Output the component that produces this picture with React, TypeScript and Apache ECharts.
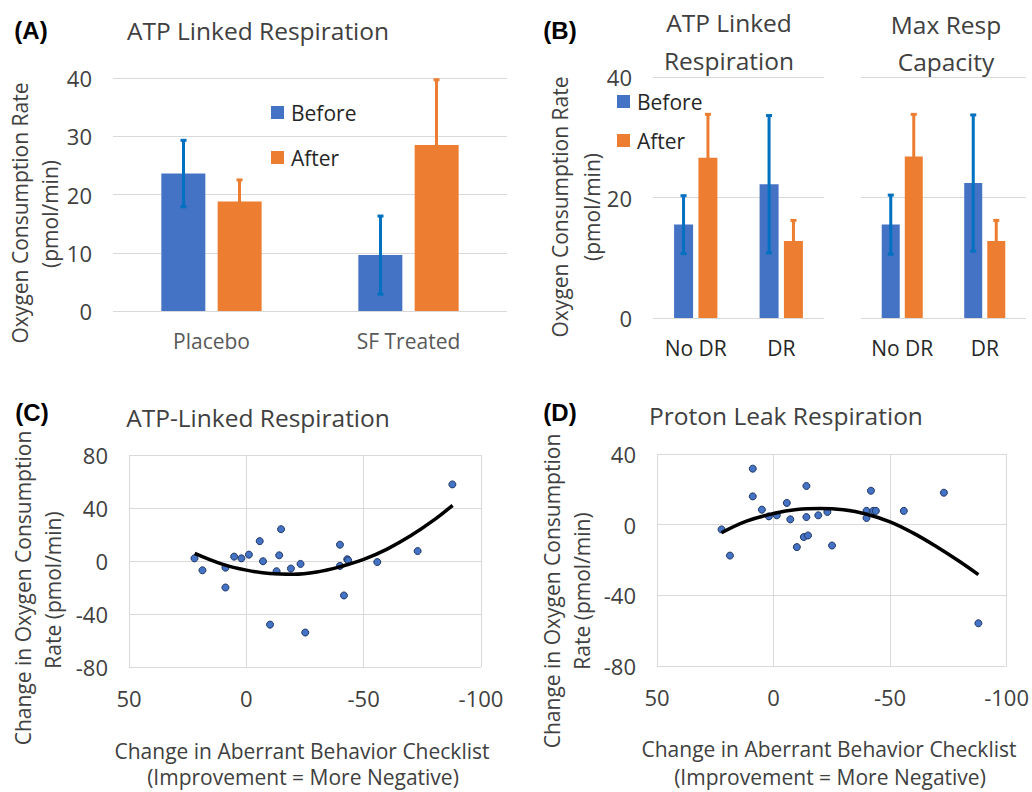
import React, { useEffect, useRef } from "react";
import * as echarts from "echarts";

// ---------- Panel A ----------
const aCategories = ["Placebo", "SF Treated"];
const aBefore = [23.6, 9.6];
const aBeforeErr = [5.7, 6.7];
const aAfter = [18.8, 28.5];
const aAfterErr = [3.7, 11.2];

// ---------- Panel B ----------
const bCategories = ["No DR", "DR"];
const bAtpBefore = [15.5, 22.2];
const bAtpBeforeErr = [4.8, 11.4];
const bAtpAfter = [26.6, 12.8];
const bAtpAfterErr = [7.2, 3.4];
const bMaxBefore = [15.5, 22.4];
const bMaxBeforeErr = [4.9, 11.3];
const bMaxAfter = [26.8, 12.8];
const bMaxAfterErr = [7.0, 3.4];

// ---------- Panel C ----------
const cX = [22.1, 18.7, 8.9, 8.9, 5.2, 2.1, -1.1, -5.7, -7.1, -14.8, -14.0, -12.9, -10.1, -19.0, -23.1, -25.1, -39.9, -39.9, -43.0, -43.4, -41.6, -55.8, -73.0, -87.8];
const cY = [2.0, -7.0, -5.0, -20.0, 3.3, 2.0, 4.8, 15.0, -0.2, 24.0, 4.3, -7.7, -48.0, -5.7, -2.2, -54.0, 12.3, -3.7, 1.3, 0.5, -26.0, -0.8, 7.5, 57.8];
const cTrendX = [22.0, 10, 0, -10, -20, -30, -40, -50, -60, -70, -80, -87.9];
const cTrendY = [5.8, -2.5, -6.9, -9.5, -10.0, -8.3, -4.3, 1.2, 9.0, 19.0, 31.0, 42.0];

// ---------- Panel D ----------
const dX = [22.3, 18.7, 8.9, 8.9, 5.0, 2.0, -1.4, -5.7, -7.2, -14.1, -14.1, -13.0, -14.8, -10.0, -19.2, -23.1, -25.1, -41.8, -39.9, -39.9, -42.8, -43.9, -55.9, -73.1, -87.9];
const dY = [-2.7, -17.5, 31.7, 16.0, 8.5, 4.7, 5.3, 12.3, 3.0, 21.9, 4.3, -7.0, -6.1, -12.7, 5.3, 7.2, -11.8, 19.2, 7.8, 3.8, 7.8, 7.8, 7.8, 18.1, -55.8];
const dTrendX = [22.3, 11.6, 0, -10, -20, -30, -40, -50, -60, -70, -80, -87.9];
const dTrendY = [-4.6, 2.0, 6.3, 8.6, 9.2, 8.4, 5.9, 1.6, -4.8, -12.5, -21.0, -28.3];

const FONT = '"Open Sans", sans-serif';
const BOLD_FONT = '"Liberation Sans", Arial, sans-serif';
const BLUE = "#4472C4";
const ORANGE = "#ED7D31";
const ERR_BLUE = "#0070C0";
const GRID_LINE = "#D9D9D9";
const TEXT = "#404040";

function errData(vals: number[], errs: number[]) {
  return vals.map((v, i) => [i, v - errs[i], v + errs[i]]);
}

function errSeries(name: string, data: number[][], gridIdx: number, offset: number, color: string) {
  return {
    type: "custom",
    name,
    xAxisIndex: gridIdx,
    yAxisIndex: gridIdx,
    z: 5,
    data,
    renderItem: (params: any, api: any) => {
      const lo = api.coord([api.value(0), api.value(1)]);
      const hi = api.coord([api.value(0), api.value(2)]);
      const x = lo[0] + offset;
      const st = { stroke: color, lineWidth: 3 };
      return {
        type: "group",
        children: [
          { type: "line", shape: { x1: x, y1: lo[1], x2: x, y2: hi[1] }, style: st },
          { type: "line", shape: { x1: x - 3, y1: hi[1], x2: x + 3, y2: hi[1] }, style: st },
          { type: "line", shape: { x1: x - 3, y1: lo[1], x2: x + 3, y2: lo[1] }, style: st },
        ],
      };
    },
  };
}

function txt(x: number, y: number, text: string, size: number, opts: any = {}) {
  return {
    type: "text",
    x,
    y,
    rotation: opts.rotate ? Math.PI / 2 : 0,
    style: {
      text,
      fill: opts.color || TEXT,
      fontSize: size,
      fontFamily: opts.family || FONT,
      fontWeight: opts.bold ? "bold" : "normal",
      align: opts.align || "center",
      verticalAlign: "middle",
    },
  };
}

export default function App() {
  const ref = useRef<HTMLDivElement>(null);

  useEffect(() => {
    if (!ref.current) return;
    const chart = echarts.init(ref.current, null, { renderer: "svg" });

    const catLabel = (color: string) => ({ fontSize: 21, color, fontFamily: FONT, margin: 19 });
    const valLabel = { fontSize: 22, color: TEXT, fontFamily: FONT, margin: 21 };
    const split = { show: true, lineStyle: { color: GRID_LINE, width: 1 } };

    const catAxis = (gridIndex: number, data: string[], color: string) => ({
      type: "category",
      gridIndex,
      data,
      axisLine: { show: false },
      axisTick: { show: false },
      axisLabel: catLabel(color),
      splitLine: { show: false },
    });
    const valAxis = (gridIndex: number, min: number, max: number, interval: number, showLabel = true) => ({
      type: "value",
      gridIndex,
      min,
      max,
      interval,
      axisLine: { show: false },
      axisTick: { show: false },
      axisLabel: { ...valLabel, show: showLabel },
      splitLine: split,
    });
    const scatterX = (gridIndex: number) => ({
      type: "value",
      gridIndex,
      inverse: true,
      min: -100,
      max: 50,
      interval: 50,
      axisLine: { show: false },
      axisTick: { show: false },
      axisLabel: { ...valLabel, margin: 20 },
      splitLine: split,
    });

    const barBase = (name: string, data: number[], idx: number, color: string, width: number) => ({
      type: "bar",
      name,
      xAxisIndex: idx,
      yAxisIndex: idx,
      data,
      barWidth: width,
      barGap: "28%",
      itemStyle: { color },
    });

    const scatter = (idx: number, xs: number[], ys: number[]) => ({
      type: "scatter",
      name: "pts" + idx,
      xAxisIndex: idx,
      yAxisIndex: idx,
      symbol: "circle",
      symbolSize: 7,
      itemStyle: { color: BLUE, borderColor: "#203864", borderWidth: 1, opacity: 1 },
      data: xs.map((x, i) => [x, ys[i]]),
    });
    const trend = (idx: number, xs: number[], ys: number[]) => ({
      type: "line",
      name: "trend" + idx,
      xAxisIndex: idx,
      yAxisIndex: idx,
      smooth: 0.4,
      symbol: "none",
      lineStyle: { color: "#000000", width: 3.5 },
      z: 4,
      data: xs.map((x, i) => [x, ys[i]]),
    });

    const legendText = { fontSize: 21, color: "#262626", fontFamily: FONT, padding: [0, 0, 0, 2] };

    const option: any = {
      animation: false,
      backgroundColor: "#ffffff",
      textStyle: { fontFamily: FONT },
      grid: [
        { left: 113, top: 78, width: 394, height: 233 },
        { left: 653, top: 77, width: 171, height: 241 },
        { left: 861, top: 77, width: 165, height: 241 },
        { left: 129, top: 455, width: 352, height: 212 },
        { left: 657, top: 454, width: 351, height: 212 },
      ],
      legend: [
        {
          left: 266,
          top: 97,
          orient: "vertical",
          itemGap: 24,
          itemWidth: 13,
          itemHeight: 13,
          icon: "rect",
          textStyle: legendText,
          data: ["Before", "After"],
        },
        {
          left: 612,
          top: 86,
          orient: "vertical",
          itemGap: 18,
          itemWidth: 13,
          itemHeight: 13,
          icon: "rect",
          textStyle: legendText,
          data: ["Before", "After"],
        },
      ],
      xAxis: [
        catAxis(0, aCategories, "#595959"),
        catAxis(1, bCategories, "#262626"),
        catAxis(2, bCategories, "#262626"),
        scatterX(3),
        scatterX(4),
      ],
      yAxis: [
        valAxis(0, 0, 40, 10),
        valAxis(1, 0, 40, 20),
        valAxis(2, 0, 40, 20, false),
        valAxis(3, -80, 80, 40),
        valAxis(4, -80, 40, 40),
      ],
      series: [
        barBase("Before", aBefore, 0, BLUE, 44),
        barBase("After", aAfter, 0, ORANGE, 44),
        errSeries("errA1", errData(aBefore, aBeforeErr), 0, -28, ERR_BLUE),
        errSeries("errA2", errData(aAfter, aAfterErr), 0, 28, ORANGE),

        barBase("Before", bAtpBefore, 1, BLUE, 19),
        barBase("After", bAtpAfter, 1, ORANGE, 19),
        errSeries("errB1", errData(bAtpBefore, bAtpBeforeErr), 1, -12.2, ERR_BLUE),
        errSeries("errB2", errData(bAtpAfter, bAtpAfterErr), 1, 12.2, ORANGE),

        barBase("Before", bMaxBefore, 2, BLUE, 18),
        barBase("After", bMaxAfter, 2, ORANGE, 18),
        errSeries("errB3", errData(bMaxBefore, bMaxBeforeErr), 2, -11.5, ERR_BLUE),
        errSeries("errB4", errData(bMaxAfter, bMaxAfterErr), 2, 11.5, ORANGE),

        scatter(3, cX, cY),
        trend(3, cTrendX, cTrendY),
        scatter(4, dX, dY),
        trend(4, dTrendX, dTrendY),
      ],
      graphic: [
        txt(31, 30, "(A)", 24, { bold: true, family: BOLD_FONT, color: "#000" }),
        txt(258, 30, "ATP Linked Respiration", 24.5),
        txt(20, 213, "Oxygen Consumption Rate", 21, { rotate: true }),
        txt(50, 214, "(pmol/min)", 21, { rotate: true }),

        txt(560, 30, "(B)", 24, { bold: true, family: BOLD_FONT, color: "#000" }),
        txt(729, 22, "ATP Linked", 24.5),
        txt(729, 60, "Respiration", 24.5),
        txt(946, 24, "Max Resp", 24.5),
        txt(946, 61, "Capacity", 24.5),
        txt(560, 207, "Oxygen Consumption Rate", 21, { rotate: true }),
        txt(592, 207, "(pmol/min)", 21, { rotate: true }),

        txt(32, 412, "(C)", 24, { bold: true, family: BOLD_FONT, color: "#000" }),
        txt(258, 417, "ATP-Linked Respiration", 24.5),
        txt(23, 588, "Change in Oxygen Consumption", 21, { rotate: true }),
        txt(53, 590, "Rate (pmol/min)", 21, { rotate: true }),
        txt(302, 751, "Change in Aberrant Behavior Checklist", 21),
        txt(303, 777, "(Improvement = More Negative)", 21),

        txt(560, 412, "(D)", 24, { bold: true, family: BOLD_FONT, color: "#000" }),
        txt(786, 415, "Proton Leak Respiration", 24.5),
        txt(552, 591, "Change in Oxygen Consumption", 21, { rotate: true }),
        txt(582, 591, "Rate (pmol/min)", 21, { rotate: true }),
        txt(829, 749, "Change in Aberrant Behavior Checklist", 21),
        txt(830, 777, "(Improvement = More Negative)", 21),
      ],
    };

    chart.setOption(option);
    return () => chart.dispose();
  }, []);

  return (
    <div
      ref={ref}
      style={{ position: "absolute", left: 0, top: 0, width: 1032, height: 792, background: "#fff" }}
    />
  );
}
